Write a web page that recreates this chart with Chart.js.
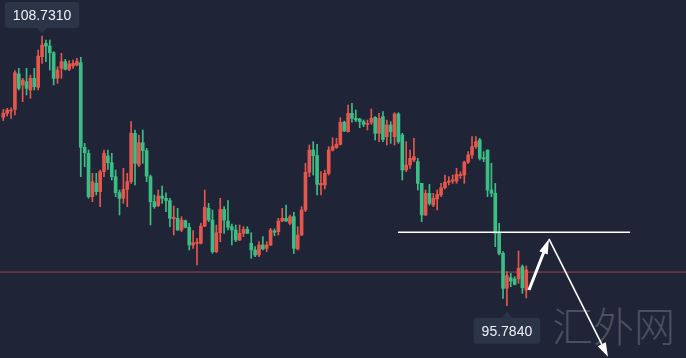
<!DOCTYPE html>
<html><head><meta charset="utf-8">
<script src="https://cdn.jsdelivr.net/npm/chart.js@4/dist/chart.umd.min.js"></script>
<style>
html,body{margin:0;padding:0;background:#1f2536;}
#wrap{position:relative;width:686px;height:358px;background:#1f2536;overflow:hidden;}
#wm{position:absolute;left:552px;top:300px;font-family:"Noto Sans CJK SC";font-weight:300;font-size:41px;line-height:48px;color:#4a5060;z-index:0;white-space:nowrap;}
#c{position:absolute;left:0;top:0;z-index:1;}
</style>
</head><body>
<div id="wrap"><div id="wm">汇外网</div><canvas id="c" width="686" height="358"></canvas></div>
<script>
const opens=[104.83,105.02,105.13,105.21,106.91,106.38,106.54,106.14,106.70,106.27,107.74,108.38,108.25,107.93,106.70,107.18,107.50,107.13,107.29,107.34,
107.45,103.39,103.10,101.02,101.66,101.26,102.22,102.97,102.65,101.98,101.21,100.94,101.37,101.74,104.06,102.54,103.61,103.23,101.98,100.78,
100.59,101.05,100.94,100.83,99.96,99.98,99.42,99.87,99.55,98.70,98.78,98.78,99.61,100.46,99.90,98.38,99.29,100.41,99.85,99.58,
99.42,98.94,99.26,99.45,98.78,98.46,98.22,98.70,98.54,98.70,99.37,99.34,99.85,99.98,99.74,100.06,98.51,99.18,100.38,102.19,
103.26,102.99,101.58,101.58,102.14,103.26,103.37,103.53,104.59,104.14,105.02,104.78,104.75,104.62,104.49,104.59,104.83,104.06,104.86,103.90,
104.46,103.90,104.99,103.98,102.30,102.54,102.78,102.70,101.66,100.14,101.18,100.62,100.91,101.10,101.45,101.71,101.77,101.77,102.03,102.06,
102.67,103.02,103.42,103.74,102.89,103.26,101.34,101.18,99.26,98.30,96.62,97.13,97.07,97.07,97.66,96.54];
const highs=[105.21,105.26,105.29,107.07,107.18,106.70,107.18,106.86,107.18,108.06,108.731,108.54,108.54,107.98,107.26,107.90,107.61,107.55,107.58,107.66,
107.71,103.58,103.26,102.14,102.14,102.30,103.26,103.26,103.10,102.30,101.34,102.38,102.14,104.62,104.22,103.98,104.22,103.34,102.06,101.10,
101.34,101.53,101.21,100.94,100.57,100.46,100.06,99.90,99.74,99.39,99.02,99.74,101.34,100.70,100.38,99.66,100.94,100.54,100.83,99.71,
99.66,99.66,99.58,99.58,99.29,98.62,98.86,99.10,98.86,99.50,99.47,99.98,100.46,100.62,100.14,100.27,99.58,100.54,102.62,103.50,
103.66,103.53,102.22,102.30,103.42,103.85,103.82,104.81,104.65,105.42,105.50,105.18,104.78,104.70,104.70,105.23,104.86,105.02,105.10,104.70,
104.62,105.05,105.05,104.06,103.66,103.26,103.82,102.86,101.66,101.34,101.61,101.18,101.34,101.66,102.06,101.98,102.06,102.38,102.22,102.73,
103.18,103.90,103.90,103.82,103.18,103.26,102.62,101.66,99.74,98.38,97.42,97.34,97.18,98.41,97.74,97.69];
const lows=[104.67,104.89,104.78,104.94,106.14,105.58,105.90,105.74,106.14,106.14,107.42,107.50,107.10,106.38,106.46,106.70,107.10,107.07,107.18,107.29,
101.98,102.46,100.94,100.78,101.10,100.54,101.98,102.33,101.82,101.02,100.14,100.70,100.54,101.66,101.58,102.46,102.62,101.74,99.66,100.46,
100.54,100.70,100.30,99.58,99.18,99.40,99.34,99.52,98.46,98.54,97.74,98.75,99.58,99.82,98.30,98.33,98.86,99.26,99.42,98.70,
98.86,98.91,99.10,99.24,98.06,98.14,98.14,98.46,98.38,98.67,99.15,99.18,99.82,99.82,99.66,98.30,98.46,99.15,100.30,101.98,
102.06,101.10,101.10,101.39,102.06,103.21,103.34,103.50,104.14,104.11,104.59,104.62,104.33,104.38,104.22,104.49,103.74,103.66,103.66,103.50,
103.58,103.50,103.58,101.82,102.22,102.38,102.70,101.34,99.82,100.11,100.62,100.54,100.38,101.02,101.39,101.58,101.66,101.66,101.90,101.66,
102.62,102.86,103.34,102.78,102.70,101.02,101.02,98.62,98.22,96.14,95.784,96.70,96.78,96.86,96.38,96.16];
const closes=[105.02,105.18,105.18,106.97,106.22,106.62,106.22,106.70,106.30,107.77,108.30,108.25,107.93,106.70,107.10,107.50,107.13,107.39,107.42,107.50,
103.39,103.13,101.02,101.74,101.26,102.22,103.10,102.65,101.98,101.21,100.94,101.37,101.74,104.06,102.62,103.61,103.23,102.01,100.78,100.54,
101.05,100.94,100.83,99.98,100.03,99.42,99.90,99.55,98.70,98.81,98.81,99.61,100.51,99.90,98.38,99.29,100.41,99.90,99.55,99.42,
98.94,99.26,99.45,99.26,98.46,98.22,98.70,98.51,98.70,99.42,99.31,99.85,99.98,99.85,100.06,98.54,99.18,100.38,102.19,103.26,
102.99,101.61,101.66,102.14,103.26,103.42,103.53,104.59,104.17,105.02,104.78,104.70,104.62,104.49,104.54,104.78,104.06,104.78,103.77,104.46,
104.14,104.99,103.66,102.30,102.54,102.86,102.94,101.66,100.14,101.18,100.70,100.94,101.13,101.45,101.71,101.77,101.82,102.09,102.09,102.67,
103.02,103.42,103.66,102.86,102.83,101.34,101.18,99.26,98.30,96.62,97.23,96.97,96.81,97.58,96.65,97.50];

const supportLevel=97.40;            // thin red horizontal line
const resistanceLevel=99.31;         // white horizontal line
const resistanceSpan=[102.9,162.8];  // candle-index span of white line
const arrowUp=[[136.7,96.54],[141.86,98.99]];
const arrowDown=[[141.86,98.99],[157.1,93.34]];

const UP='#e5564c', DOWN='#3cbd86';
const idx=opens.map((_,i)=>i+1);
const colors=opens.map((o,i)=>closes[i]>=o?UP:DOWN);
const wickData=idx.map((x,i)=>({x:x,y:[lows[i],highs[i]]}));
const bodyData=idx.map((x,i)=>({x:x,y:[opens[i],closes[i]]}));

function roundRect(ctx,x,y,w,h,r){ctx.beginPath();ctx.moveTo(x+r,y);ctx.lineTo(x+w-r,y);ctx.quadraticCurveTo(x+w,y,x+w,y+r);ctx.lineTo(x+w,y+h-r);ctx.quadraticCurveTo(x+w,y+h,x+w-r,y+h);ctx.lineTo(x+r,y+h);ctx.quadraticCurveTo(x,y+h,x,y+h-r);ctx.lineTo(x,y+r);ctx.quadraticCurveTo(x,y,x+r,y);ctx.closePath();}

function drawArrow(ctx,xs,ys,a,lw,hl,hw){
  const x1=xs.getPixelForValue(a[0][0]),y1=ys.getPixelForValue(a[0][1]);
  const x2=xs.getPixelForValue(a[1][0]),y2=ys.getPixelForValue(a[1][1]);
  const ang=Math.atan2(y2-y1,x2-x1);
  const bx=x2-Math.cos(ang)*hl, by=y2-Math.sin(ang)*hl;
  ctx.save();ctx.strokeStyle='#ffffff';ctx.fillStyle='#ffffff';ctx.lineWidth=lw;
  ctx.beginPath();ctx.moveTo(x1,y1);ctx.lineTo(bx+Math.cos(ang)*2,by+Math.sin(ang)*2);ctx.stroke();
  ctx.beginPath();ctx.moveTo(x2,y2);
  ctx.lineTo(bx+Math.sin(ang)*hw,by-Math.cos(ang)*hw);
  ctx.lineTo(bx-Math.sin(ang)*hw,by+Math.cos(ang)*hw);
  ctx.closePath();ctx.fill();ctx.restore();
}

function label(ctx,px,py,text,above){
  ctx.save();
  ctx.font='14px "Liberation Sans", Arial, sans-serif';
  const w=ctx.measureText(text).width+16, h=26;
  const bx=px-w/2;
  const by=above?py-8-h:py+12;
  ctx.fillStyle='#2c3447';
  roundRect(ctx,bx,by,w,h,3);ctx.fill();
  ctx.beginPath();
  if(above){ctx.moveTo(px-5,by+h);ctx.lineTo(px+5,by+h);ctx.lineTo(px,by+h+5);}
  else{ctx.moveTo(px-5,by);ctx.lineTo(px+5,by);ctx.lineTo(px,by-6);}
  ctx.closePath();ctx.fill();
  ctx.fillStyle='#eef1f6';ctx.textAlign='center';ctx.textBaseline='middle';
  ctx.fillText(text,px,by+h/2+1);
  ctx.restore();
}

const overlay={id:'overlay',afterDatasetsDraw(chart){
  const ctx=chart.ctx,xs=chart.scales.x,ys=chart.scales.y;
  drawArrow(ctx,xs,ys,arrowUp,3,15,4.5);
  drawArrow(ctx,xs,ys,arrowDown,1.6,14,4.5);
  const hi=Math.max(...highs), hiI=highs.indexOf(hi);
  const lo=Math.min(...lows), loI=lows.indexOf(lo);
  label(ctx,xs.getPixelForValue(idx[hiI]),ys.getPixelForValue(hi),hi.toFixed(4),true);
  label(ctx,xs.getPixelForValue(idx[loI]),ys.getPixelForValue(lo),lo.toFixed(4),false);
}};

new Chart(document.getElementById('c'),{
  type:'bar',
  data:{datasets:[
    {type:'line',data:[{x:0.1,y:supportLevel},{x:178,y:supportLevel}],borderColor:'rgba(200,80,80,0.75)',borderWidth:1,pointRadius:0,fill:false,order:5},
    {type:'bar',data:wickData,backgroundColor:colors,barThickness:1,grouped:false,order:3},
    {type:'bar',data:bodyData,backgroundColor:colors,barThickness:3,grouped:false,minBarLength:1,order:2},
    {type:'line',data:[{x:resistanceSpan[0],y:resistanceLevel},{x:resistanceSpan[1],y:resistanceLevel}],borderColor:'#ffffff',borderWidth:1.5,pointRadius:0,fill:false,order:0}
  ]},
  options:{
    responsive:false,maintainAspectRatio:false,animation:false,events:[],
    layout:{padding:0},
    plugins:{legend:{display:false},tooltip:{enabled:false}},
    scales:{
      x:{type:'linear',min:0.148,max:177.23,offset:false,display:false},
      y:{type:'linear',min:93.276,max:110.46,display:false}
    }
  },
  plugins:[overlay]
});
</script>
</body></html>
